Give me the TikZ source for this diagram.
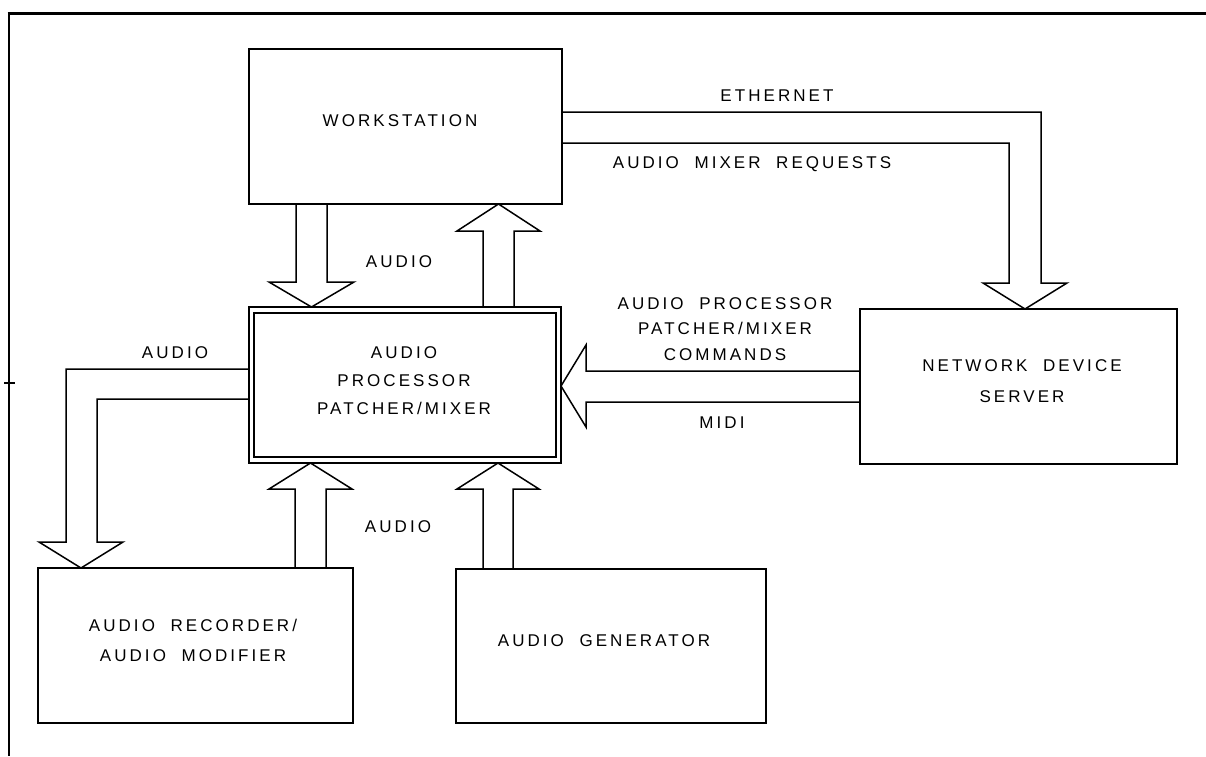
\documentclass[tikz,border=0pt]{standalone}
\usepackage{fontspec}
\setmainfont{Liberation Sans}[LetterSpace=18,WordSpace=2]
\begin{document}
\begin{tikzpicture}[x=1pt,y=-1pt,line join=miter,
  ln/.style={line width=1.5pt,black},
  box/.style={draw,line width=1.5pt,inner sep=0pt,outer sep=0pt},
  blk/.style={line width=1.5pt,black},
  txt/.style={font=\fontsize{17}{28}\selectfont,align=center,inner sep=0pt},
  frame/.style={line width=2.6pt,black}]
\useasboundingbox (0,0) rectangle (1206,756);
\fill[white] (0,0) rectangle (1206,756);

% page frame
\draw[frame] (7.5,13.5) -- (1206,13.5);
\draw[line width=2pt] (9,12.5) -- (9,756);
\draw[line width=1.2pt] (4,383) -- (15,383);

% blocks
\node[box,minimum width=313pt,minimum height=155pt] (ws)   at (405.5,126.5) {};
\node[box,minimum width=312pt,minimum height=156pt] (proc) at (405,385) {};
\draw[ln] ([shift={(5,6)}]proc.north west) rectangle ([shift={(-5,-6)}]proc.south east);
\node[box,minimum width=317pt,minimum height=155pt] (net)  at (1018.5,386.5) {};
\node[box,minimum width=315pt,minimum height=155pt] (rec)  at (195.5,645.5) {};
\node[box,minimum width=310pt,minimum height=154pt] (gen)  at (611,646) {};

% block labels
\node[txt] (wsT)   at (400,121) {WORKSTATION};
\node[txt] (procT) at (404,381) {AUDIO\\PROCESSOR\\PATCHER/MIXER};
\node[txt,font=\fontsize{17}{31}\selectfont] (netT) at (1022,381.5) {NETWORK DEVICE\\SERVER};
\node[txt,font=\fontsize{17}{30}\selectfont] (recT) at (193,640) {AUDIO RECORDER/\\AUDIO MODIFIER};
\node[txt] (genT)  at (604,641) {AUDIO GENERATOR};

% workstation -> patcher (audio)
\draw[blk] (296,0 |- ws.south) -- (296,282) -- (269,282) -- (311.5,0 |- proc.north)
  -- (354,282) -- (327,282) -- (327,0 |- ws.south);
% patcher -> workstation (audio)
\draw[blk] (483,0 |- proc.north) -- (483,231) -- (457,231) -- (498.5,0 |- ws.south)
  -- (540,231) -- (514,231) -- (514,0 |- proc.north);
% ethernet: workstation -> network device server
\draw[blk] (ws.east |- 0,112) -- (1041,112) -- (1041,283) -- (1067,283)
  -- (1025,0 |- net.north) -- (983,283) -- (1009,283) -- (1009,143) -- (ws.east |- 0,143);
% commands / MIDI: network device server -> patcher
\draw[blk] (net.west |- 0,371) -- (586,371) -- (586,345) -- (proc.east |- 0,386)
  -- (586,427) -- (586,402) -- (net.west |- 0,402);
% patcher -> recorder (audio)
\draw[blk] (proc.west |- 0,369) -- (66,369) -- (66,542) -- (39,542) -- (81,0 |- rec.north)
  -- (123,542) -- (97,542) -- (97,399) -- (proc.west |- 0,399);
% recorder -> patcher (audio)
\draw[blk] (295,0 |- rec.north) -- (295,489) -- (269,489) -- (310.5,0 |- proc.south)
  -- (352,489) -- (326,489) -- (326,0 |- rec.north);
% generator -> patcher (audio)
\draw[blk] (483,0 |- gen.north) -- (483,489) -- (457,489) -- (498,0 |- proc.south)
  -- (539,489) -- (513,489) -- (513,0 |- gen.north);

% connector labels
\node[txt] (lAudioTop)  at (399,262) {AUDIO};
\node[txt] (lAudioLeft) at (175,353) {AUDIO};
\node[txt] (lAudioBot)  at (398,527) {AUDIO};
\node[txt] (lEth)       at (777,96)  {ETHERNET};
\node[txt] (lReq)       at (752,164) {AUDIO MIXER REQUESTS};
\node[txt,font=\fontsize{17}{25.5}\selectfont] (lCmd) at (725,329) {AUDIO PROCESSOR\\PATCHER/MIXER\\COMMANDS};
\node[txt] (lMidi)      at (722,423) {MIDI};
\end{tikzpicture}
\end{document}
